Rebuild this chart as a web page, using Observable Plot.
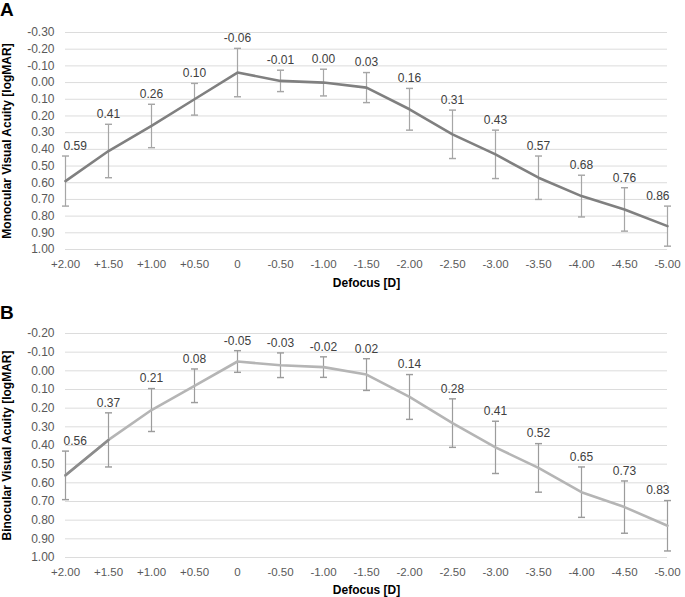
<!DOCTYPE html>
<html><head><meta charset="utf-8">
<script src="https://cdn.jsdelivr.net/npm/d3@7"></script>
<script src="https://cdn.jsdelivr.net/npm/@observablehq/plot@0.6"></script>
<style>
body{margin:0;background:#fff;font-family:"Liberation Sans",Arial,sans-serif;}
#wrap{position:relative;width:685px;}
.panel{position:relative;height:auto;}
.panel svg{display:block;}
.letter{position:absolute;left:0;font:bold 19px "Liberation Sans",Arial,sans-serif;color:#000;line-height:1.15;}
</style></head><body><div id="wrap"></div>
<script>
const categories = ["+2.00","+1.50","+1.00","+0.50","0","-0.50","-1.00","-1.50","-2.00","-2.50","-3.00","-3.50","-4.00","-4.50","-5.00"];

const monoMean = [0.59,0.41,0.26,0.10,-0.06,-0.01,0.00,0.03,0.16,0.31,0.43,0.57,0.68,0.76,0.86];
const monoSD   = [0.15,0.16,0.13,0.095,0.145,0.064,0.08,0.09,0.125,0.145,0.145,0.13,0.125,0.13,0.12];

const binoMean = [0.56,0.37,0.21,0.08,-0.05,-0.03,-0.02,0.02,0.14,0.28,0.41,0.52,0.65,0.73,0.83];
const binoSD   = [0.13,0.145,0.115,0.09,0.058,0.066,0.055,0.085,0.12,0.13,0.14,0.13,0.135,0.14,0.135];

const yTicksA = [-0.30,-0.20,-0.10,0.00,0.10,0.20,0.30,0.40,0.50,0.60,0.70,0.80,0.90,1.00];
const yTicksB = [-0.20,-0.10,0.00,0.10,0.20,0.30,0.40,0.50,0.60,0.70,0.80,0.90,1.00];

const xTitle = "Defocus [D]";
const yTitleA = "Monocular Visual Acuity [logMAR]";
const yTitleB = "Binocular Visual Acuity [logMAR]";

const FONT = '"Liberation Sans", Arial, sans-serif';

function panel(o) {
  const data = categories.map((c, i) => ({c, i, m: o.means[i], lo: o.means[i] - o.sds[i], hi: o.means[i] + o.sds[i]}));
  const n = data.length;
  const marks = [
    Plot.gridY(o.yTicks, {stroke: "#dcdcdc", strokeOpacity: 1, strokeWidth: 1}),
    Plot.axisY(o.yTicks, {tickSize: 0, tickPadding: 11, tickFormat: d => d.toFixed(2), label: null, fontSize: 12}),
    Plot.axisX({tickSize: 0, tickPadding: 10, label: null, fontSize: 11.5}),
    Plot.link(data, {x1: "c", x2: "c", y1: "lo", y2: "hi", stroke: o.barColor, strokeWidth: 1.2, markerStart: "tick", markerEnd: "tick"}),
    Plot.line(data, {x: "c", y: "m", stroke: o.lineColor, strokeWidth: 2.6}),
  ];
  if (o.firstColor) marks.push(Plot.line(data.slice(0, 2), {x: "c", y: "m", stroke: o.firstColor, strokeWidth: 2.6}));
  const lab = {x: "c", y: "lo", dy: -10, text: d => d.m.toFixed(2), fill: "#404040", fontSize: 12};
  marks.push(
    Plot.text(data.filter(d => d.i === 0), {...lab, textAnchor: "start", dx: -2}),
    Plot.text(data.filter(d => d.i > 0 && d.i < n - 1), lab),
    Plot.text(data.filter(d => d.i === n - 1), {...lab, textAnchor: "end", dx: 2}),
    Plot.text([xTitle], {text: d => d, frameAnchor: "bottom", dy: o.xTitleDy, textAnchor: "middle", lineAnchor: "middle", fontWeight: "bold", fontSize: 12, fill: "#000"}),
    Plot.text([o.yTitle], {text: d => d, frameAnchor: "left", dx: -58, rotate: -90, textAnchor: "middle", lineAnchor: "middle", fontWeight: "bold", fontSize: 12, fill: "#000"})
  );
  return Plot.plot({
    width: 685, height: o.height,
    marginLeft: 65, marginRight: 18, marginTop: o.marginTop, marginBottom: o.marginBottom,
    style: {fontFamily: FONT, fontSize: "12px", color: "#595959", background: "#fff", overflow: "visible"},
    x: {type: "point", domain: categories, padding: 0},
    y: {domain: [o.yTicks[0], 1.0], reverse: true},
    marks
  });
}

const wrap = document.getElementById("wrap");
function addPanel(letter, letterTop, opts) {
  const div = document.createElement("div");
  div.className = "panel";
  div.appendChild(panel(opts));
  const l = document.createElement("div");
  l.className = "letter";
  l.style.top = letterTop + "px";
  l.textContent = letter;
  div.appendChild(l);
  wrap.appendChild(div);
}

addPanel("A", -1, {means: monoMean, sds: monoSD, yTicks: yTicksA, yTitle: yTitleA, height: 298, marginTop: 32, marginBottom: 49, xTitleDy: 34,
  lineColor: "#808080", barColor: "#a6a6a6"});
addPanel("B", 4, {means: binoMean, sds: binoSD, yTicks: yTicksB, yTitle: yTitleB, height: 299, marginTop: 35, marginBottom: 40, xTitleDy: 33,
  lineColor: "#b5b5b5", firstColor: "#8c8c8c", barColor: "#9c9c9c"});
</script>
</body></html>
